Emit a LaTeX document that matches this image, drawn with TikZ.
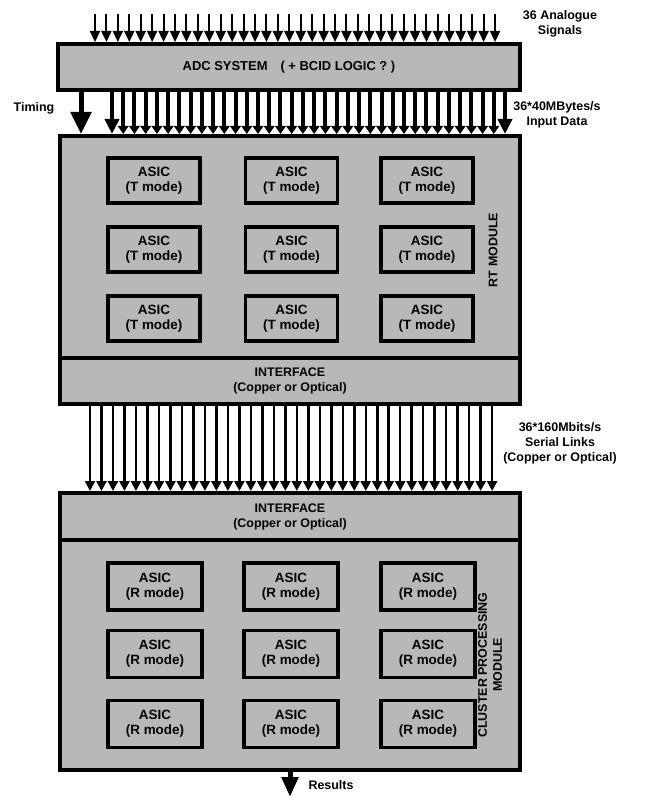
\documentclass[tikz,border=0pt]{standalone}
\usepackage{fontspec}
\setmainfont{Liberation Sans}
\usetikzlibrary{arrows.meta,positioning}

\tikzset{
  panel/.style={draw=black, line width=4bp, fill=black!28, inner sep=0pt, align=center},
  asicbox/.style={draw=black, line width=3.5bp, fill=black!28, minimum width=92bp, minimum height=45bp, inner sep=0pt, align=center, font=\fontsize{13.5}{15}\selectfont\bfseries},
  lbl/.style={align=center, inner sep=0pt},
  sigarrow/.style={line width=2bp, -{Triangle[width=10bp,length=11bp]}},
  datarrow/.style={line width=4bp, -{Triangle[width=10.5bp,length=8bp]}},
  bigdatarrow/.style={line width=4bp, -{Triangle[width=14bp,length=15bp]}},
  serarrow/.style={line width=2.5bp, -{Triangle[width=10bp,length=10bp]}},
  fatarrow/.style={line width=5bp, -{Triangle[width=20bp,length=22bp]}}
}

\begin{document}
\begin{tikzpicture}[x=1bp, y=-1bp, font=\fontsize{12.5}{15}\selectfont\bfseries, line join=miter]
  \useasboundingbox (0,0) rectangle (648,798);

  % boxes
  \node[panel, minimum width=462bp, minimum height=46bp, font=\fontsize{13}{15}\selectfont\bfseries] (adc) at (289,67) {ADC SYSTEM\quad( + BCID LOGIC ? )};
  \node[panel, minimum width=460bp, minimum height=268bp] (rt) at (290,270) {};
  \node[panel, minimum width=460bp, minimum height=46bp] (rtif) at (290,381) {INTERFACE\\(Copper or Optical)};
  \node[panel, minimum width=460bp, minimum height=277bp] (cp) at (290,631.5) {};
  \node[panel, minimum width=460bp, minimum height=47bp] (cpif) at (290,516.5) {INTERFACE\\(Copper or Optical)};

  % asic blocks
  \foreach \r [count=\ri] in {180.5,249.5,318.5}
    \foreach \c [count=\ci] in {154,291.5,427}
      \node[asicbox] (t\ri\ci) at (\c,\r) {ASIC\\(T mode)};
  \foreach \r [count=\ri] in {586.5,654,724}
    \foreach \c [count=\ci] in {155,291,428}
      \node[asicbox, minimum width=94bp, minimum height=47bp] (r\ri\ci) at (\c,\r) {ASIC\\(R mode)};

  % module names
  \node[lbl, rotate=90] (rtlbl) at (493,250) {RT MODULE};
  \node[lbl, rotate=90] (cplbl) at (490,665) {CLUSTER PROCESSING\\MODULE};

  % analogue signals
  \foreach \i in {0,...,35} {
    \coordinate (ain\i) at ({95+\i*11.43},14);
    \draw[sigarrow] (ain\i) -- (ain\i |- adc.north);
  }
  \node[lbl] (anlbl) at (560,24) {36 Analogue\\Signals};

  % timing and input data
  \coordinate (tim) at (81,90);
  \draw[fatarrow] (tim) -- (tim |- rt.north);
  \node[lbl] (timlbl) at (34,108) {Timing};
  \foreach \i in {1,...,34} {
    \coordinate (dat\i) at ({112+\i*11.23},90);
    \draw[datarrow] (dat\i) -- (dat\i |- rt.north);
  }
  \coordinate (dat0) at (112,90);
  \coordinate (dat35) at (505,90);
  \draw[bigdatarrow] (dat0) -- (dat0 |- rt.north);
  \draw[bigdatarrow] (dat35) -- (dat35 |- rt.north);
  \node[lbl] (inlbl) at (557,115) {36*40MBytes/s\\Input Data};

  % serial links
  \foreach \i in {0,...,35} {
    \coordinate (ser\i) at ({90+\i*11.49},404);
    \draw[serarrow] (ser\i) -- (ser\i |- cp.north);
  }
  \node[lbl] (serlbl) at (560,443) {36*160Mbits/s\\Serial Links\\(Copper or Optical)};

  % results
  \coordinate (res) at (290,797);
  \draw[fatarrow, -{Triangle[width=16bp,length=20bp]}] (cp.south) -- (res);
  \node[lbl] (reslbl) at (331,785) {Results};
\end{tikzpicture}
\end{document}
